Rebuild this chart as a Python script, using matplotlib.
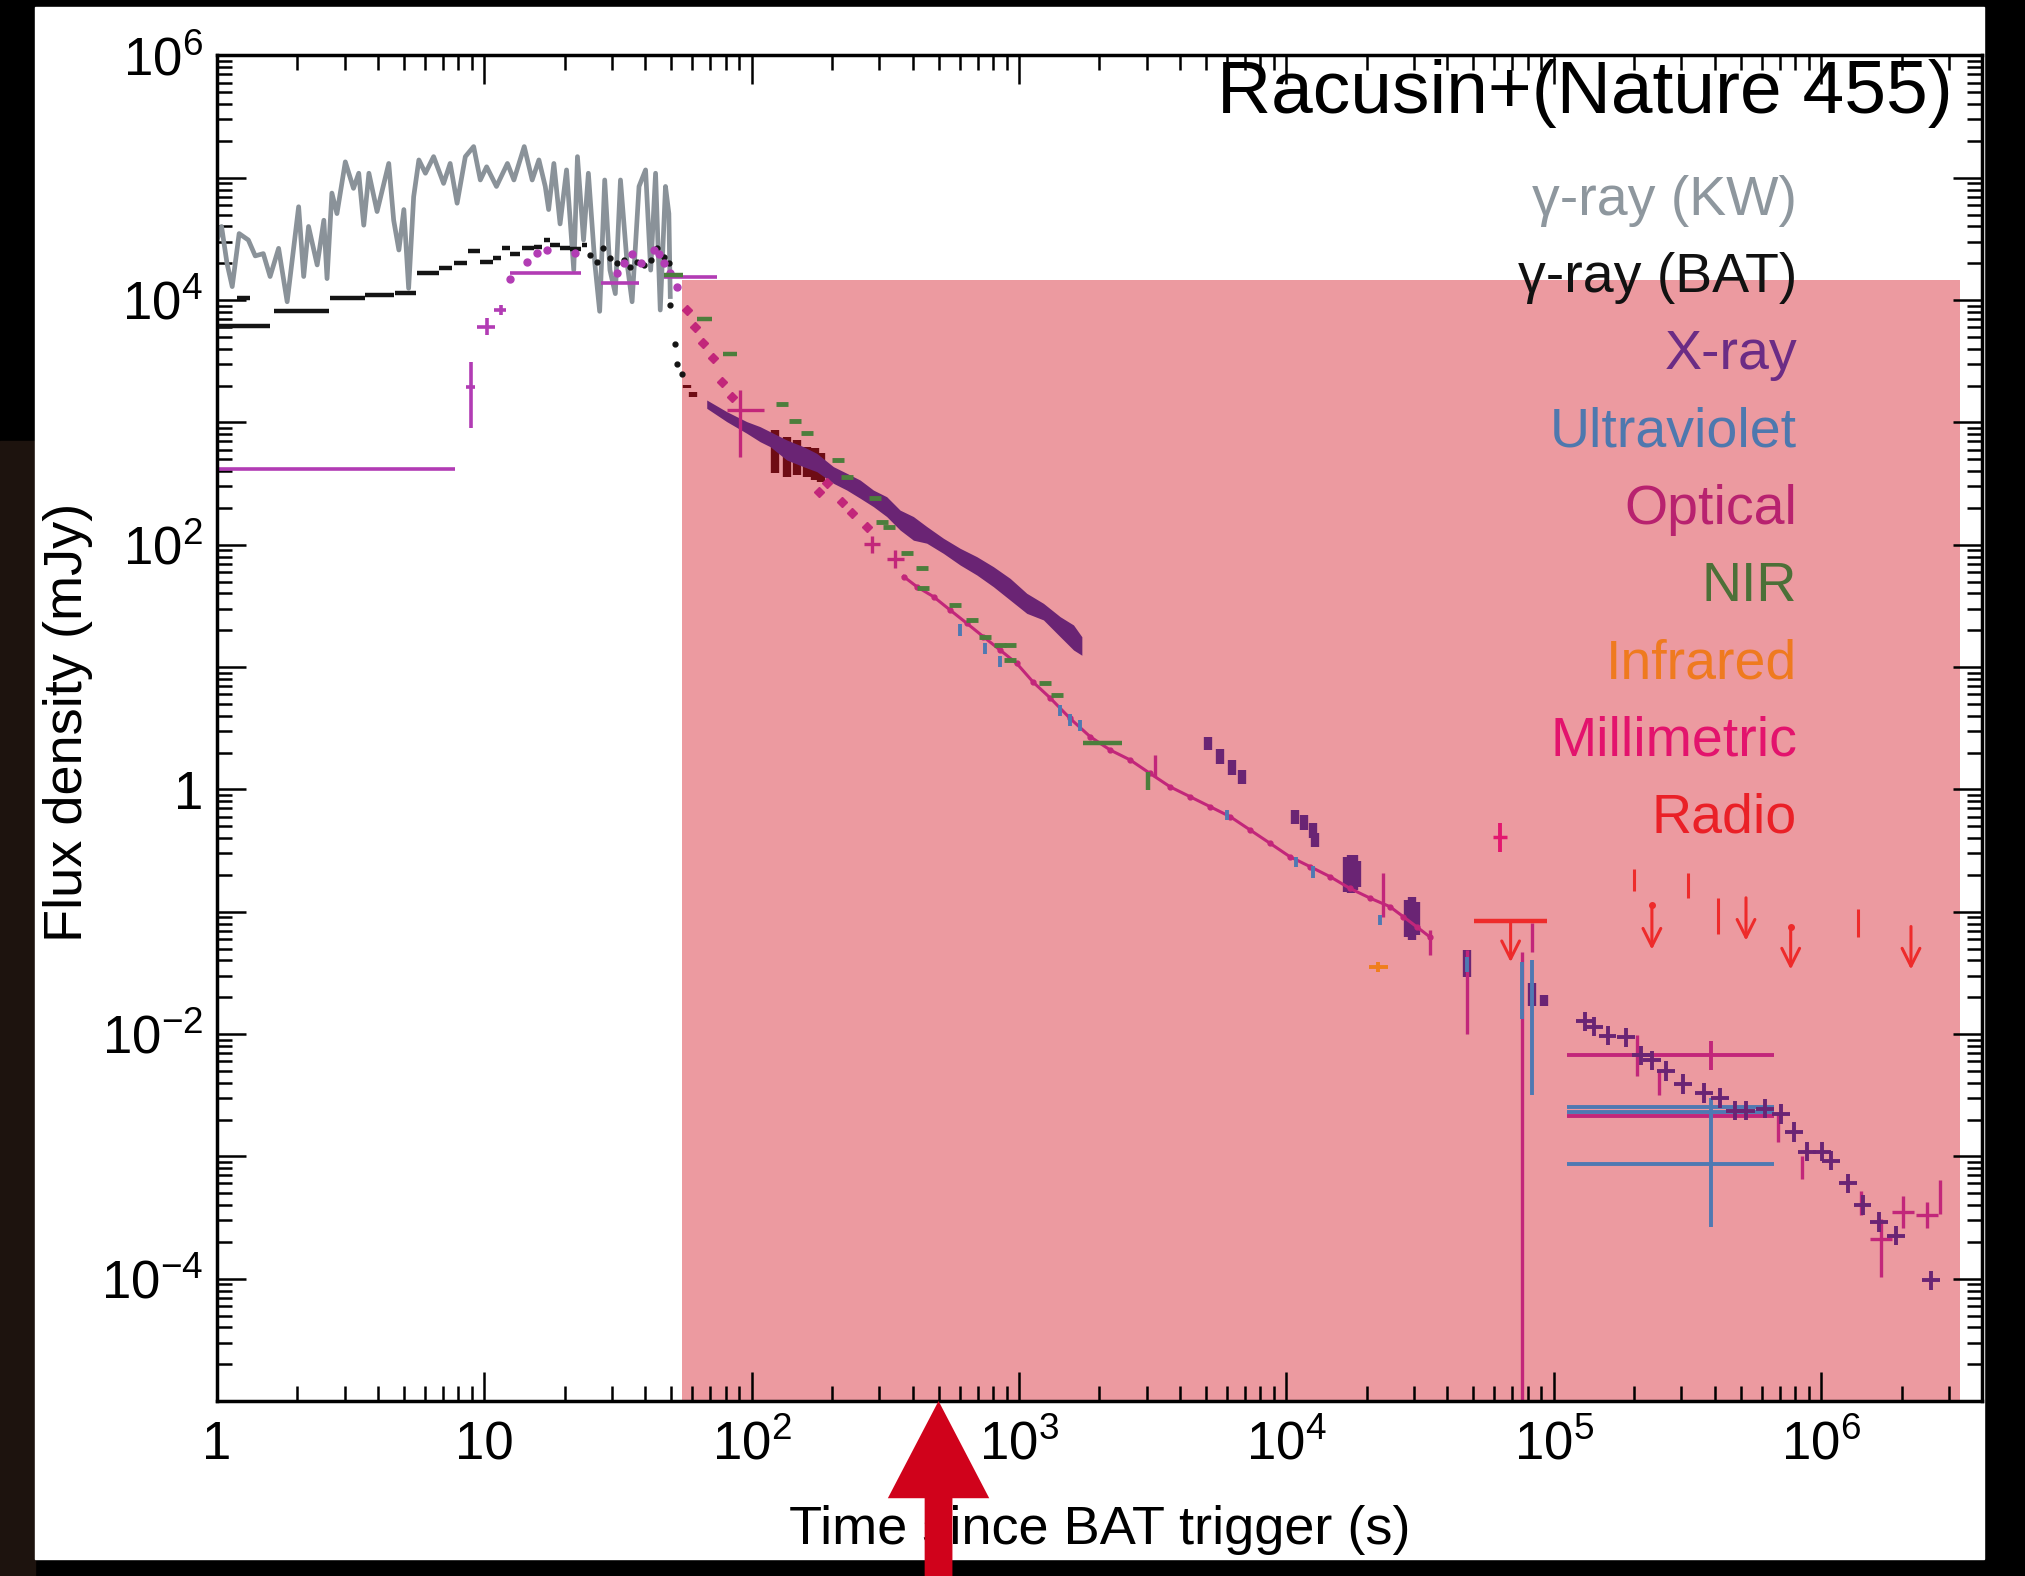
import numpy as np
import matplotlib
matplotlib.use('Agg')
import matplotlib.pyplot as plt
from matplotlib.patches import Rectangle
from matplotlib.ticker import FixedLocator, FixedFormatter, LogLocator, NullFormatter

plt.rcParams['font.family'] = ['Liberation Sans', 'DejaVu Sans']
plt.rcParams['mathtext.fontset'] = 'custom'
plt.rcParams['mathtext.rm'] = 'Liberation Sans'
plt.rcParams['mathtext.it'] = 'Liberation Sans:italic'
plt.rcParams['mathtext.bf'] = 'Liberation Sans:bold'

# ---------------- data (time in s, flux density in mJy) ----------------
# Konus-Wind gamma-ray light curve
kw_t = [1.0, 1.04, 1.09, 1.14, 1.21, 1.31, 1.39, 1.49, 1.58, 1.70, 1.83, 2.02, 2.11, 2.20, 2.37,
        2.51, 2.58, 2.69, 2.81, 3.02, 3.24, 3.39, 3.54, 3.70, 3.97, 4.39, 4.58, 4.79, 5.00, 5.21,
        5.44, 5.69, 6.02, 6.46, 7.04, 7.45, 7.91, 8.49, 9.12, 9.66, 10.2, 11.1, 12.2, 12.9, 14.1,
        15.1, 16.0, 16.9, 17.4, 18.2, 19.2, 20.3, 21.6, 22.3, 23.5, 24.5, 25.9, 27.0, 28.2, 29.5,
        30.9, 32.3, 34.2, 35.7, 37.9, 40.1, 41.9, 43.7, 45.5, 47.6, 49.0, 49.6]
kw_f = [3.1e4, 4.0e4, 2.0e4, 1.29e4, 3.5e4, 3.1e4, 2.3e4, 2.4e4, 1.56e4, 2.65e4, 9.7e3, 5.8e4,
        1.56e4, 4.0e4, 1.94e4, 4.5e4, 1.5e4, 7.5e4, 5.1e4, 1.35e5, 8.2e4, 1.09e5, 4.1e4, 1.09e5,
        5.3e4, 1.31e5, 4.5e4, 2.57e4, 5.5e4, 1.25e4, 7.0e4, 1.4e5, 1.09e5, 1.49e5, 9.0e4, 1.31e5,
        6.2e4, 1.49e5, 1.8e5, 9.6e4, 1.23e5, 8.5e4, 1.31e5, 9.6e4, 1.8e5, 9.6e4, 1.4e5, 8.5e4,
        5.5e4, 1.31e5, 4.2e4, 1.16e5, 1.76e4, 1.49e5, 3.1e4, 1.09e5, 2.0e4, 8.1e3, 9.6e4, 1.76e4,
        1.13e4, 9.6e4, 2.0e4, 9.7e3, 8.5e4, 1.16e5, 1.76e4, 1.09e5, 8.3e3, 8.5e4, 5.1e4, 1.07e4]

# Swift-BAT binned light curve (bin start, bin end, flux)
bat_lo = [1.0, 1.19, 1.63, 2.65, 3.59, 4.64, 5.6, 6.75, 7.7, 8.7, 9.65, 10.8, 11.6, 12.5, 13.8,
          15.3, 16.7, 17.6, 19.2, 20.9, 23.2]
bat_hi = [1.58, 1.33, 2.62, 3.59, 4.58, 5.53, 6.75, 7.6, 8.6, 9.65, 10.8, 11.5, 12.5, 13.6, 15.3,
          16.4, 17.6, 19.2, 20.9, 22.9, 24.2]
bat_f = [6100, 10500, 8100, 10500, 11000, 11500, 16800, 18200, 20000, 25400, 20600, 22000, 26500,
         24000, 26500, 27300, 31000, 28000, 26500, 26000, 28000]
# BAT finer bins and steep decline
bat_dot_t = [24.9, 26.4, 27.8, 29.5, 31.3, 33.3, 35.2, 37.3, 39.5, 41.9, 44.4, 47.1, 49.0,
             49.6, 51.7, 52.7, 54.8]
bat_dot_f = [23400, 20600, 26500, 22000, 20000, 21300, 18800, 20600, 19400, 21300, 26500, 22600,
             20000, 9100, 4400, 3000, 2500]
# BAT tail (behind the shaded area)
bat_tail_t = [57.1, 60.5, 122, 135, 148, 161, 172, 182]
bat_tail_f = [1960, 1680, 577, 525, 517, 478, 455, 428]
bat_tail_lo = [1900, 1600, 384, 361, 372, 361, 338, 328]
bat_tail_hi = [2020, 1760, 867, 765, 719, 634, 614, 559]

# early optical (TORTORA / Pi of the Sky): points with error bars
opt0_t = [2.8, 8.9, 10.2, 11.5, 17.0, 32.0, 60.0]
opt0_f = [414, 1958, 6070, 8300, 16600, 13700, 15600]
opt0_tlo = [1.0, 8.55, 9.4, 10.9, 12.5, 27.3, 46.9]
opt0_thi = [7.8, 9.25, 11.0, 12.1, 22.9, 37.8, 74.0]
opt0_flo = [405, 895, 5200, 7500, 16600, 13700, 15600]
opt0_fhi = [423, 3134, 7100, 9200, 16600, 13700, 15600]
opt0_dot_t = [12.5, 14.4, 15.7, 17.2, 21.9, 31.4, 33.2, 35.7, 38.4, 43.0, 44.9, 46.9, 49.6, 52.5]
opt0_dot_f = [15000, 20600, 24200, 25700, 24200, 16600, 20000, 24000, 20000, 25700, 24000, 20000,
              16600, 12900]

# optical afterglow
opt_fast_t = [57.2, 61.4, 65.9, 71.9, 77.3, 84.3, 178, 191, 217, 237, 270]
opt_fast_f = [8300, 6070, 4440, 3340, 2150, 1620, 271, 318, 225, 181, 140]
opt_slow_t = [370, 415, 479, 552, 638, 736, 849, 981, 1132, 1307, 1553, 1845, 2193, 2606, 3093,
              3675, 4367, 5190, 6170, 7330, 8700, 10300, 12300, 14600, 17300, 20600, 24400,
              27400, 30800, 34500]
opt_slow_f = [55, 45.4, 37.6, 29.3, 22.8, 17.7, 13.8, 10.7, 7.5, 5.6, 3.8, 2.7, 2.10, 1.74, 1.35,
              1.05, 0.871, 0.722, 0.598, 0.465, 0.362, 0.282, 0.233, 0.193, 0.155, 0.129, 0.110,
              0.091, 0.075, 0.062]
opt_cross_t = [90.5, 281, 344, 1.68e6, 2.03e6, 2.5e6]
opt_cross_f = [1262, 101, 77, 0.000211, 0.00035, 0.00033]
opt_cross_tlo = [81, 262, 320, 1.52e6, 1.85e6, 2.27e6]
opt_cross_thi = [111, 302, 370, 1.85e6, 2.23e6, 2.75e6]
opt_cross_flo = [525, 86, 65, 0.000104, 0.00026, 0.00026]
opt_cross_fhi = [1842, 119, 91, 0.000305, 0.00047, 0.00042]
opt_late_t = [3230, 2.3e4, 3.44e4, 4.73e4, 7.6e4, 8.26e4, 2.05e5, 2.48e5, 6.9e5, 8.47e5, 1.41e6,
              2.79e6]
opt_late_f = [1.55, 0.14, 0.055, 0.02, 0.025, 0.062, 0.0072, 0.0042, 0.0017, 0.0008, 0.00042,
              0.00045]
opt_late_lo = [1.27, 0.091, 0.044, 0.0101, 1e-7, 0.047, 0.0045, 0.0032, 0.0013, 0.00065, 0.00033,
               0.00034]
opt_late_hi = [1.9, 0.206, 0.071, 0.0485, 0.047, 0.081, 0.0098, 0.0051, 0.0022, 0.001, 0.00052,
               0.00064]

# X-ray: early dense band (lower / upper envelope)
xb_t = [67.9, 80.7, 95.9, 107.5, 117.2, 135.3, 156.1, 175.2, 202.2, 226.9, 254.6, 285.3, 320.0,
        359.0, 402.7, 451.6, 521.5, 602.3, 695.4, 802, 926.5, 1069, 1234, 1426, 1599, 1718]
xb_hi = [1526, 1225, 1015, 924, 841, 719, 634, 559, 435, 384, 338, 280, 247, 192, 170, 141, 113,
         93.5, 79.9, 66.2, 53.1, 40.1, 33.2, 25.8, 22.1, 17.7]
xb_lo = [1305, 1015, 815, 696, 634, 493, 435, 396, 318, 280, 240, 205, 170, 132, 109, 103, 85,
         68.3, 56.6, 45.4, 35.3, 27.5, 24.3, 17.7, 13.8, 12.5]
# X-ray: later orbits
xr_t = [5110, 5650, 6250, 6810, 10800, 11600, 12600, 12800, 16900, 17400, 17900, 18400, 28500,
        29500, 30500, 47300, 82600, 92000]
xr_f = [2.38, 1.85, 1.53, 1.27, 0.597, 0.543, 0.465, 0.385, 0.2, 0.206, 0.21, 0.2, 0.09, 0.091,
        0.088, 0.037, 0.021, 0.019]
xr_lo = [2.1, 1.6, 1.3, 1.1, 0.52, 0.47, 0.40, 0.34, 0.145, 0.141, 0.15, 0.16, 0.062, 0.0586,
         0.065, 0.029, 0.017, 0.017]
xr_hi = [2.7, 2.15, 1.75, 1.45, 0.68, 0.62, 0.53, 0.44, 0.28, 0.29, 0.29, 0.26, 0.125, 0.132,
         0.12, 0.0485, 0.026, 0.021]
xr_late_t = [1.31e5, 1.42e5, 1.59e5, 1.86e5, 2.12e5, 2.33e5, 2.64e5, 3.05e5, 3.64e5, 4.2e5, 4.77e5,
             5.24e5, 6.15e5, 7.1e5, 7.9e5, 8.88e5, 1.01e6, 1.09e6, 1.26e6, 1.43e6, 1.65e6, 1.91e6,
             2.58e6]
xr_late_f = [0.0127, 0.0115, 0.0097, 0.0094, 0.0067, 0.0061, 0.0050, 0.0039, 0.0033, 0.0030,
             0.00237, 0.00237, 0.00245, 0.00222, 0.00158, 0.00109, 0.00109, 0.00092, 0.00060,
             0.00040, 0.00029, 0.000225, 0.000097]

# ultraviolet
uv_t = [602, 747, 849, 1426, 1553, 1693, 5990, 10900, 12600, 22400, 47300, 76000, 82600]
uv_f = [20.1, 14.2, 11.1, 4.45, 3.69, 3.36, 0.616, 0.256, 0.212, 0.086, 0.037, 0.022, 0.011]
uv_lo = [18, 12.8, 10, 4.0, 3.3, 3.0, 0.56, 0.23, 0.19, 0.078, 0.032, 0.0132, 0.0032]
uv_hi = [22.4, 15.7, 12.3, 4.9, 4.1, 3.7, 0.68, 0.28, 0.235, 0.094, 0.043, 0.0386, 0.040]
# long horizontal bars (stacked late epoch)
stack_t, stack_tlo, stack_thi = 3.88e5, 1.12e5, 6.66e5
stack_opt_f = [0.0068, 0.00214]
stack_opt_lo = [0.0051, 0.00214]
stack_opt_hi = [0.0088, 0.00214]
stack_uv_f = [0.00254, 0.00229, 0.000865]
stack_uv_lo = [0.00254, 0.00229, 0.000267]
stack_uv_hi = [0.00254, 0.00229, 0.0030]

# near infrared
nir_t = [129.5, 145, 161, 211, 227, 290, 307, 325, 380, 433, 439, 577, 666, 747, 849, 926, 926,
         1253, 1384]
nir_f = [1413, 1026, 815, 492, 360, 239, 154, 140, 85, 64, 44, 32, 24.2, 17.7, 15.1, 15.1, 11.4,
         7.4, 5.9]
nir_bar_t = [51, 66, 83, 2055, 3050]
nir_bar_f = [16000, 7000, 3600, 2.38, 1.2]
nir_bar_tlo = [46.9, 62.3, 78.4, 1742, 3050]
nir_bar_thi = [55.5, 70.9, 88, 2425, 3050]
nir_bar_flo = [16000, 7000, 3600, 2.38, 0.99]
nir_bar_fhi = [16000, 7000, 3600, 2.38, 1.40]

# infrared and millimetric
ir_t, ir_f, ir_tlo, ir_thi, ir_flo, ir_fhi = 2.21e4, 0.0354, 2.04e4, 2.4e4, 0.032, 0.039
mm_t, mm_f, mm_flo, mm_fhi = 6.3e4, 0.406, 0.31, 0.53

# radio detections and upper limits
rad_t = [1.99e5, 3.18e5, 4.1e5, 1.38e6]
rad_f = [0.18, 0.165, 0.099, 0.08]
rad_lo = [0.148, 0.129, 0.066, 0.062]
rad_hi = [0.222, 0.207, 0.129, 0.106]
rad_ul_t = [6.9e4, 2.33e5, 5.24e5, 7.7e5, 2.17e6]
rad_ul_f = [0.0847, 0.113, 0.13, 0.0757, 0.0757]
rad_ul_tip = [0.0387, 0.049, 0.058, 0.0337, 0.0337]
rad_bar_tlo, rad_bar_thi = 5.05e4, 9.4e4

# shaded region and pointer
shade_t0, shade_t1, shade_top = 55, 3.3e6, 1.46e4
arrow_t = 500

legend_labels = ['γ-ray (KW)', 'γ-ray (BAT)', 'X-ray', 'Ultraviolet', 'Optical', 'NIR',
                 'Infrared', 'Millimetric', 'Radio']
legend_colors = ['#8E979E', '#111111', '#6B2C85', '#4E78AE', '#B8226F', '#4C7038', '#EF7A1F',
                 '#E3136D', '#EA2027']

x_ticks = [1, 10, 1e2, 1e3, 1e4, 1e5, 1e6]
x_labels = ['1', '10', '$10^{2}$', '$10^{3}$', '$10^{4}$', '$10^{5}$', '$10^{6}$']
y_ticks = [10.0 ** e for e in range(-5, 7)]
y_labels = ['', '$10^{-4}$', '', '$10^{-2}$', '', '1', '', '$10^{2}$', '', '$10^{4}$', '', '$10^{6}$']

# colours
kw_c = '#8A9299'
bat_c = '#141414'
bat_tail_c = '#6E0C14'
opt0_c = '#B23CB4'
opt_c = '#C2267A'
xray_c = '#6A2474'
uv_c = '#4F79B2'
nir_c = '#4C7E3C'
ir_c = '#F07E1C'
mm_c = '#E3176F'
radio_c = '#EE2B2B'


def bars(ax, t, f, tlo, thi, flo, fhi, color, lw, z=4):
    t = np.atleast_1d(np.asarray(t, float))
    f = np.atleast_1d(np.asarray(f, float))
    xe = [t - np.atleast_1d(tlo), np.atleast_1d(thi) - t]
    ye = [f - np.atleast_1d(flo), np.atleast_1d(fhi) - f]
    ax.errorbar(t, f, xerr=xe, yerr=ye, fmt='none', ecolor=color, elinewidth=lw,
                capsize=0, zorder=z)


fig = plt.figure(figsize=(20.25, 15.76), dpi=100, facecolor='black')
fig.add_artist(Rectangle((0, 0), 35 / 2025, 0.72, transform=fig.transFigure,
                         color='#1d130e', zorder=-2))
fig.add_artist(Rectangle((35 / 2025, 17 / 1576), 1949 / 2025, 1552 / 1576,
                         transform=fig.transFigure, color='white', zorder=-1))

ax = fig.add_axes([0.10716, 0.11104, 0.87160, 0.85375])
ax.set_xscale('log')
ax.set_yscale('log')
ax.set_xlim(1, 4.0e6)
ax.set_ylim(1e-5, 1e6)
ax.set_facecolor('white')

# shaded region
ax.add_patch(Rectangle((shade_t0, 1e-5), shade_t1 - shade_t0, shade_top - 1e-5,
                       facecolor='#EC9AA0', edgecolor='none', zorder=0.5))

# gamma-ray
ax.plot(kw_t, kw_f, color=kw_c, lw=3.4, zorder=2)
ax.hlines(bat_f, bat_lo, bat_hi, color=bat_c, lw=3.2, zorder=3)
ax.plot(bat_dot_t, bat_dot_f, ls='none', marker='o', ms=3.5, color=bat_c, zorder=3)
bars(ax, bat_tail_t, bat_tail_f, bat_tail_t, bat_tail_t, bat_tail_lo, bat_tail_hi, bat_tail_c, 6, z=3)

# optical
bars(ax, opt0_t, opt0_f, opt0_tlo, opt0_thi, opt0_flo, opt0_fhi, opt0_c, 2.6)
ax.plot(opt0_dot_t, opt0_dot_f, ls='none', marker='o', ms=5, color=opt0_c, zorder=4)
ax.plot(opt_fast_t, opt_fast_f, ls='none', marker='D', ms=5, color=opt_c, zorder=4)
ax.plot(opt_slow_t, opt_slow_f, lw=2.2, marker='o', ms=3.5, color=opt_c, zorder=4)
bars(ax, opt_cross_t, opt_cross_f, opt_cross_tlo, opt_cross_thi, opt_cross_flo, opt_cross_fhi, opt_c, 2.4)
bars(ax, opt_late_t, opt_late_f, opt_late_t, opt_late_t, opt_late_lo, opt_late_hi, opt_c, 2.4)

# X-ray
ax.fill_between(xb_t, xb_lo, xb_hi, color=xray_c, lw=0, zorder=3.5)
bars(ax, xr_t, xr_f, xr_t, xr_t, xr_lo, xr_hi, xray_c, 6, z=3.5)
xr_late_t = np.array(xr_late_t)
xr_late_f = np.array(xr_late_f)
bars(ax, xr_late_t, xr_late_f, xr_late_t / 1.08, xr_late_t * 1.08,
     xr_late_f / 1.2, xr_late_f * 1.2, xray_c, 2.8, z=4.5)

# stacked late bars
for f, lo, hi in zip(stack_opt_f, stack_opt_lo, stack_opt_hi):
    bars(ax, stack_t, f, stack_tlo, stack_thi, lo, hi, opt_c, 2.8)
for f, lo, hi in zip(stack_uv_f, stack_uv_lo, stack_uv_hi):
    bars(ax, stack_t, f, stack_tlo, stack_thi, lo, hi, uv_c, 2.8)

# UV, NIR, IR, mm
bars(ax, uv_t, uv_f, uv_t, uv_t, uv_lo, uv_hi, uv_c, 2.8, z=5)
ax.plot(nir_t, nir_f, ls='none', marker='_', ms=8, mew=3.5, color=nir_c, zorder=5)
bars(ax, nir_bar_t, nir_bar_f, nir_bar_tlo, nir_bar_thi, nir_bar_flo, nir_bar_fhi, nir_c, 3.2, z=5)
bars(ax, ir_t, ir_f, ir_tlo, ir_thi, ir_flo, ir_fhi, ir_c, 2.8, z=5)
bars(ax, mm_t, mm_f, mm_t, mm_t, mm_flo, mm_fhi, mm_c, 2.8, z=5)
ax.plot([mm_t], [mm_f], ls='none', marker='_', ms=10, mew=2.5, color=mm_c, zorder=5)

# radio
bars(ax, rad_t, rad_f, rad_t, rad_t, rad_lo, rad_hi, radio_c, 2.2, z=5)
ax.hlines(rad_ul_f[0], rad_bar_tlo, rad_bar_thi, color=radio_c, lw=3.2, zorder=5)
for t, f, tip in zip(rad_ul_t, rad_ul_f, rad_ul_tip):
    ax.annotate('', xy=(t, tip), xytext=(t, f),
                arrowprops=dict(arrowstyle='->', color=radio_c, lw=2.2, mutation_scale=32,
                                shrinkA=0, shrinkB=0), zorder=5)
ax.plot(rad_ul_t[1::2], rad_ul_f[1::2], ls='none', marker='o', ms=4, color=radio_c, zorder=5)

# axes styling
for s in ax.spines.values():
    s.set_linewidth(2.5)
    s.set_zorder(20)
ax.xaxis.set_major_locator(FixedLocator(x_ticks))
ax.xaxis.set_major_formatter(FixedFormatter(x_labels))
ax.xaxis.set_minor_locator(LogLocator(base=10, subs=np.arange(2, 10), numticks=50))
ax.xaxis.set_minor_formatter(NullFormatter())
ax.yaxis.set_major_locator(FixedLocator(y_ticks))
ax.yaxis.set_major_formatter(FixedFormatter(y_labels))
ax.yaxis.set_minor_locator(LogLocator(base=10, subs=np.arange(2, 10), numticks=50))
ax.yaxis.set_minor_formatter(NullFormatter())
ax.tick_params(which='both', direction='in', top=True, right=True, width=1.8, color='black')
ax.tick_params(which='major', length=21, labelsize=38)
ax.tick_params(which='minor', length=11)
ax.tick_params(axis='y', which='major', pad=10)
ax.tick_params(axis='x', which='major', pad=14)

ax.set_xlabel('Time since BAT trigger (s)', fontsize=39, va='center')
ax.xaxis.set_label_coords(0.5, -0.0959)
ax.set_ylabel('Flux density (mJy)', fontsize=39, va='center')
ax.yaxis.set_label_coords(-0.0844, 0.5046)

# colour-coded legend
for k, (lab, col) in enumerate(zip(legend_labels, legend_colors)):
    yb = 215 + 77.25 * k
    ax.text(0.8952, (1401 - yb) / 1345.5, lab, transform=ax.transAxes, ha='right',
            va='baseline', fontsize=40, color=col, zorder=6)

fig.text(1953 / 2025, 1 - 93 / 1576, 'Racusin+(Nature 455)', ha='right', va='center',
         fontsize=54, color='black')

# pointer arrow
ax.annotate('', xy=(arrow_t, 0.0), xycoords=('data', 'axes fraction'),
            xytext=(arrow_t, -0.25), textcoords=('data', 'axes fraction'),
            arrowprops=dict(facecolor='#D0021B', edgecolor='none', width=20, headwidth=73,
                            headlength=70, shrink=0),
            annotation_clip=False, zorder=30)

fig.savefig('out.png', dpi=100, facecolor=fig.get_facecolor())
